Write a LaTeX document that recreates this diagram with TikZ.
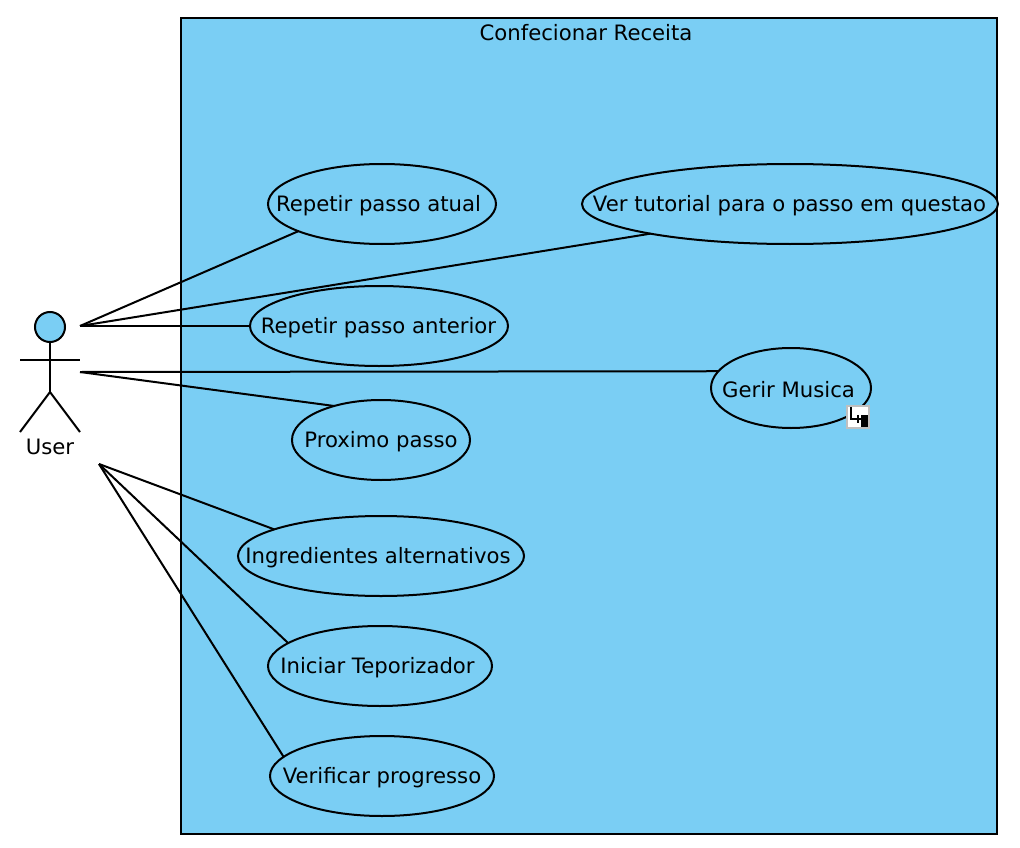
\documentclass[tikz,border=0pt]{standalone}
\usepackage{fontspec}
\setmainfont{DejaVu Sans}
\usetikzlibrary{shapes.geometric}
\definecolor{ucblue}{HTML}{7ACEF4}
\tikzset{
  ln/.style={line width=2pt,black},
  uc/.style={draw=black,line width=2pt,fill=ucblue,ellipse,inner sep=0pt,outer sep=0pt,minimum height=80pt},
  lbl/.style={font=\fontsize{21.2}{25}\selectfont,inner sep=0pt,text=black},
}
\begin{document}
\begin{tikzpicture}[x=1pt,y=-1pt]
\useasboundingbox (0,0) rectangle (1020,848);
\fill[white] (0,0) rectangle (1020,848);
\node[draw=black,line width=2pt,fill=ucblue,rectangle,inner sep=0pt,outer sep=0pt,minimum width=816pt,minimum height=816pt] (sys) at (589,426) {};
\node[lbl] (systitle) at (586,33) {Confecionar Receita};

\node[uc,minimum width=228pt] (e1) at (382,204) {};
\node[uc,minimum width=416pt] (e2) at (790,204) {};
\node[uc,minimum width=258pt] (e3) at (379,326) {};
\node[uc,minimum width=160pt] (e4) at (791,388) {};
\node[uc,minimum width=178pt] (e5) at (381,440) {};
\node[uc,minimum width=286pt] (e6) at (381,556) {};
\node[uc,minimum width=224pt] (e7) at (380,666) {};
\node[uc,minimum width=224pt] (e8) at (382,776) {};
\node[lbl] (t1) at (378.5,205.5) {Repetir passo atual};
\node[lbl] (t2) at (789.5,205.5) {Ver tutorial para o passo em questao};
\node[lbl] (t3) at (378.5,327.5) {Repetir passo anterior};
\node[lbl] (t4) at (788.5,389.5) {Gerir Musica};
\node[lbl] (t5) at (381,441.5) {Proximo passo};
\node[lbl] (t6) at (378,557.5) {Ingredientes alternativos};
\node[lbl] (t7) at (377.5,667.5) {Iniciar Teporizador};
\node[lbl] (t8) at (382,777.5) {Verificar progresso};

% actor
\node[draw=black,line width=2pt,fill=ucblue,circle,inner sep=0pt,outer sep=0pt,minimum size=30pt] (head) at (50,327) {};
\coordinate (hip) at (50,392);
\coordinate (armL) at (20,360);
\coordinate (armR) at (80,360);
\coordinate (legL) at (20,432);
\coordinate (legR) at (80,432);
\draw[ln] (head.south) -- (hip);
\draw[ln] (armL) -- (armR);
\draw[ln] (legL) -- (hip) -- (legR);
\node[lbl] (user) at (50,447) {User};

% free ends
\coordinate (a1) at (80,326);
\coordinate (a2) at (80,372);
\coordinate (a3) at (99,464);

\draw[ln] (a1) -- (e1.198.9);
\draw[ln] (a1) -- (e2.192.1);
\draw[ln] (a1) -- (e3.west);
\draw[ln] (a2) -- (e4.167.5);
\draw[ln] (a2) -- (e5.144.7);
\draw[ln] (a3) -- (e6.166.5);
\draw[ln] (a3) -- (e7.166.7);
\draw[ln] (a3) -- (e8.169.5);

% sub-diagram icon
\fill[black!25] (846,405) rectangle (870,429);
\fill[white] (848,407) rectangle (868,427);
\fill[black] (849.5,407) rectangle (851.5,419);
\fill[black] (849.5,418) rectangle (857,420);
\fill[black] (854,417.5) rectangle (862,420);
\fill[black] (857,415) rectangle (859,423);
\fill[black] (861,415) rectangle (868,427);
\end{tikzpicture}
\end{document}
